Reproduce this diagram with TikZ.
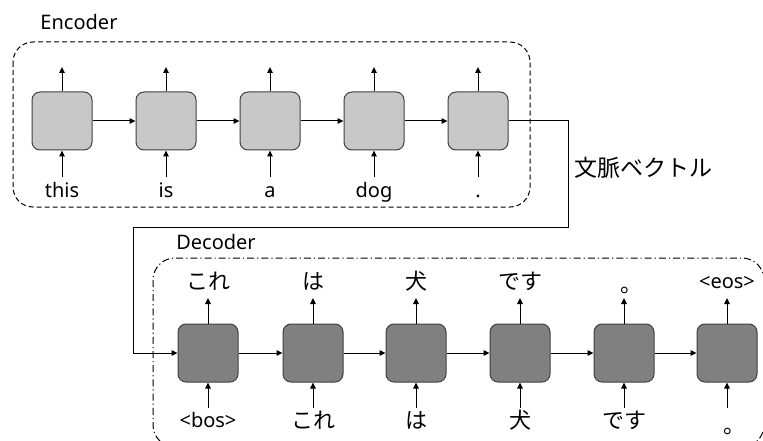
\documentclass[tikz,border=0pt]{standalone}
\usepackage{fontspec}
\setmainfont{Noto Sans}
\newfontfamily\jp{Noto Sans CJK JP}
\usetikzlibrary{arrows.meta}
\definecolor{encfill}{HTML}{C8C8C8}
\definecolor{decfill}{HTML}{808080}
\definecolor{edge}{HTML}{404040}
\begin{document}
\begin{tikzpicture}[x=1pt,y=-1pt,
  cell/.style={draw=edge, rounded corners=8pt, minimum width=60pt, minimum height=58pt, line width=1pt, inner sep=0pt},
  enccell/.style={cell, fill=encfill},
  deccell/.style={cell, fill=decfill},
  arr/.style={-{Triangle[length=6pt,width=5.5pt]}, line width=1pt},
  lat/.style={font=\fontsize{20}{20}\selectfont, inner sep=0pt, anchor=base},
  jtok/.style={font=\jp\fontsize{22}{22}\selectfont, inner sep=0pt, anchor=base},
  title/.style={font=\fontsize{20}{20}\selectfont, inner sep=0pt},
]
\clip (0,0) rectangle (763,441);
\fill[white] (0,0) rectangle (763,441);

% group boxes
\draw[line width=1pt, dash pattern=on 5pt off 3pt, rounded corners=20pt] (13,42) rectangle (530,207);
\draw[line width=1pt, dash pattern=on 7pt off 3pt on 1.2pt off 3pt, rounded corners=22pt] (153,258) rectangle (764,447);
\node[title] (enclbl) at (79,22) {Encoder};
\node[title] (declbl) at (216,242) {Decoder};

% encoder
\foreach \i/\x/\w in {1/62/this, 2/166/is, 3/270/a, 4/374/dog, 5/478/.} {
  \node[enccell] (e\i) at (\x,121) {};
  \coordinate (eo\i) at (\x,67);
  \coordinate (ei\i) at (\x,177);
  \node[lat] (et\i) at (\x,197) {\w};
  \draw[arr] (e\i.north) -- (eo\i);
  \draw[arr] (ei\i) -- (e\i.south);
}
\foreach \a/\b in {1/2,2/3,3/4,4/5} \draw[arr] (e\a.east) -- (e\b.west);

% decoder
\foreach \i/\x in {1/208, 2/313, 3/416, 4/520, 5/624, 6/727} {
  \node[deccell] (d\i) at (\x,353) {};
  \coordinate (do\i) at (\x,298);
  \coordinate (di\i) at (\x,408);
  \draw[arr] (d\i.north) -- (do\i);
  \draw[arr] (di\i) -- (d\i.south);
}
\foreach \a/\b in {1/2,2/3,3/4,4/5,5/6} \draw[arr] (d\a.east) -- (d\b.west);

% decoder outputs
\node[jtok] (o1) at (208,289) {これ};
\node[jtok] (o2) at (313,289) {は};
\node[jtok] (o3) at (416,289) {犬};
\node[jtok] (o4) at (520,289) {です};
\node[jtok] (o5) at (631,292) {。};
\node[lat] (o6) at (727,288) {<eos>};

% decoder inputs
\node[lat] (i1) at (208,427) {<bos>};
\node[jtok] (i2) at (313,428) {これ};
\node[jtok] (i3) at (416,428) {は};
\node[jtok] (i4) at (520,428) {犬};
\node[jtok] (i5) at (624,428) {です};
\node[jtok] (i6) at (734,433) {。};

% context vector
\coordinate (c1) at (568,121);
\coordinate (c2) at (133,227);
\draw[arr] (e5.east) -- (c1) |- (c2) |- (d1.west);
\node[font=\jp\fontsize{23}{23}\selectfont, inner sep=0pt] (ctx) at (643,168) {文脈ベクトル};
\end{tikzpicture}
\end{document}
